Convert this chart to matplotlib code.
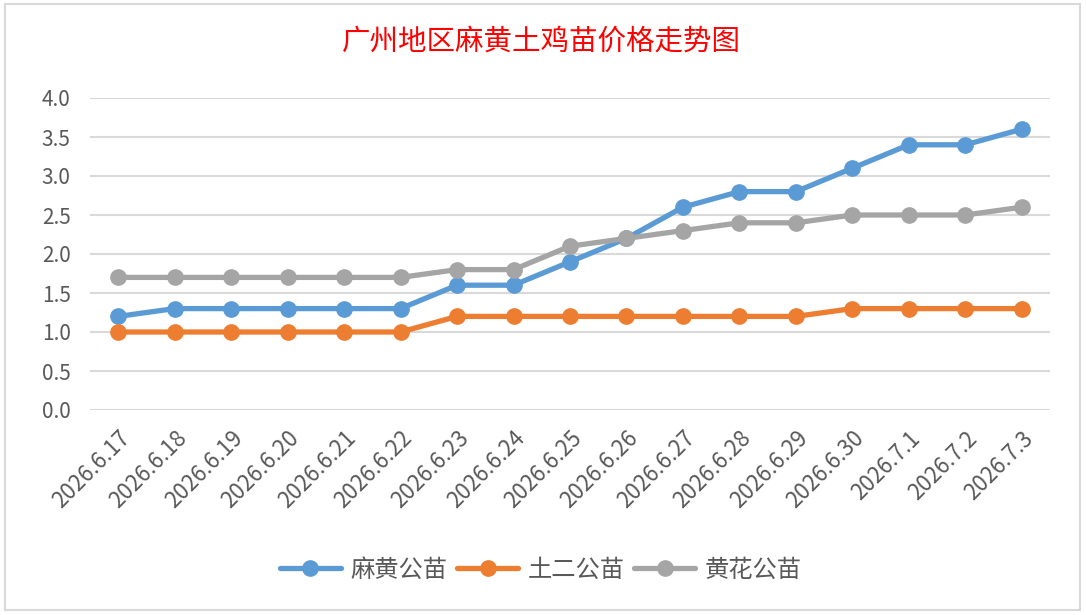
import matplotlib
matplotlib.use("Agg")
import matplotlib.pyplot as plt
from matplotlib.patches import Rectangle

plt.rcParams['font.family'] = ['Noto Sans CJK SC', 'DejaVu Sans']

dates = ["2026.6.17", "2026.6.18", "2026.6.19", "2026.6.20", "2026.6.21", "2026.6.22",
         "2026.6.23", "2026.6.24", "2026.6.25", "2026.6.26", "2026.6.27", "2026.6.28",
         "2026.6.29", "2026.6.30", "2026.7.1", "2026.7.2", "2026.7.3"]
mahuang = [1.2, 1.3, 1.3, 1.3, 1.3, 1.3, 1.6, 1.6, 1.9, 2.2, 2.6, 2.8, 2.8, 3.1, 3.4, 3.4, 3.6]
tuer = [1.0, 1.0, 1.0, 1.0, 1.0, 1.0, 1.2, 1.2, 1.2, 1.2, 1.2, 1.2, 1.2, 1.3, 1.3, 1.3, 1.3]
huanghua = [1.7, 1.7, 1.7, 1.7, 1.7, 1.7, 1.8, 1.8, 2.1, 2.2, 2.3, 2.4, 2.4, 2.5, 2.5, 2.5, 2.6]
series_names = ["麻黄公苗", "土二公苗", "黄花公苗"]
yticks = [0.0, 0.5, 1.0, 1.5, 2.0, 2.5, 3.0, 3.5, 4.0]
title = "广州地区麻黄土鸡苗价格走势图"

colors = ["#5B9BD5", "#ED7D31", "#A5A5A5"]

fig = plt.figure(figsize=(10.86, 6.15), dpi=100)
fig.patches.append(Rectangle((5/1086, 5/615), 1075/1086, 606/615, transform=fig.transFigure,
                             fill=False, edgecolor="#D9D9D9", linewidth=1.5))
ax = fig.add_axes([90/1086, 1 - 410/615, 960/1086, 312/615])

x = list(range(len(dates)))
for vals, name, c in zip([mahuang, tuer, huanghua], series_names, colors):
    ax.plot(x, vals, color=c, linewidth=3.8, marker='o', markersize=11,
            label=name, solid_capstyle='round', zorder=3)

ax.set_xlim(-0.5, len(dates) - 0.5)
ax.set_ylim(0, 4.0)
ax.set_yticks(yticks)
ax.set_yticklabels([f"{v:.1f}" for v in yticks], fontsize=15, color="#595959")
ax.set_xticks(x)
ax.set_xticklabels(dates, rotation=45, ha='right', va='top', rotation_mode='anchor',
                   fontsize=16, color="#595959")
ax.tick_params(axis='both', length=0)
ax.tick_params(axis='y', pad=14)
ax.tick_params(axis='x', pad=12)
ax.grid(axis='y', color="#D9D9D9", linewidth=1.5)
ax.set_axisbelow(True)
for s in ax.spines.values():
    s.set_visible(False)

fig.text(541/1086, 1 - 42/615, title, color="red", fontsize=20.5, ha='center', va='center')

leg = fig.legend(loc='center', bbox_to_anchor=(541/1086, 1 - 570/615), ncol=3, frameon=False,
                 fontsize=17.5, handlelength=2.5, columnspacing=0.4, handletextpad=0.4)
for t in leg.get_texts():
    t.set_color("#595959")

fig.savefig("out.png", dpi=100, facecolor="white")
